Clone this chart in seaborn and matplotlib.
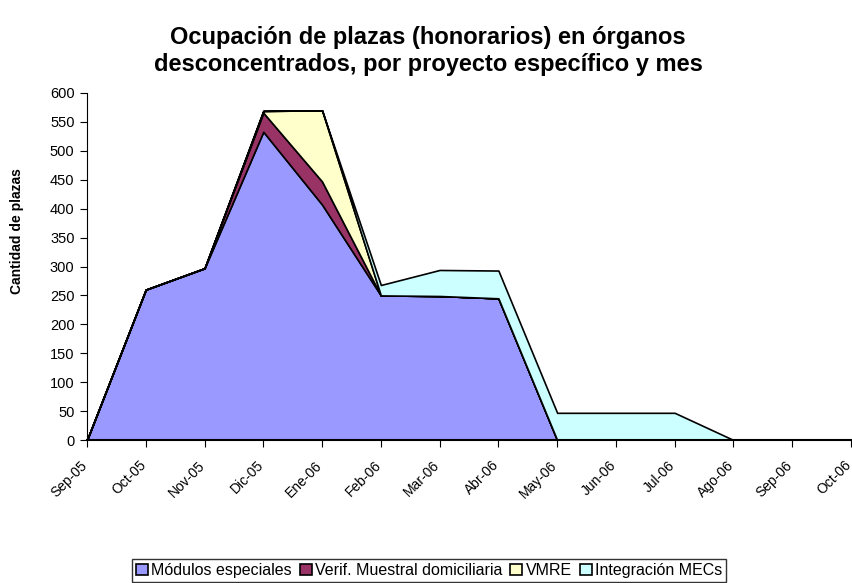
import matplotlib
matplotlib.use("Agg")
import matplotlib.pyplot as plt
import matplotlib.transforms as mtransforms
import seaborn as sns

# Datos
meses = ["Sep-05", "Oct-05", "Nov-05", "Dic-05", "Ene-06", "Feb-06", "Mar-06",
         "Abr-06", "May-06", "Jun-06", "Jul-06", "Ago-06", "Sep-06", "Oct-06"]
modulos = [0, 260, 297, 533, 407, 250, 249, 245, 0, 0, 0, 0, 0, 0]
verif = [0, 0, 0, 33, 40, 0, 0, 0, 0, 0, 0, 0, 0, 0]
vmre = [0, 0, 0, 3, 123, 0, 0, 0, 0, 0, 0, 0, 0, 0]
mecs = [0, 0, 0, 0, 0, 18, 45, 48, 47, 47, 47, 0, 0, 0]
series = ["Módulos especiales", "Verif. Muestral domiciliaria", "VMRE", "Integración MECs"]
colores = ["#9999FF", "#993366", "#FFFFCC", "#CCFFFF"]

sns.set_style("ticks")
plt.rcParams["font.family"] = ["Liberation Sans", "DejaVu Sans"]
plt.rcParams["text.color"] = "black"
plt.rcParams["axes.labelcolor"] = "black"
plt.rcParams["xtick.color"] = "black"
plt.rcParams["ytick.color"] = "black"

fig = plt.figure(figsize=(8.53, 5.83), dpi=100)
ax = fig.add_axes([87 / 853, 1 - 440 / 583, (851 - 87) / 853, (440 - 93) / 583])

x = list(range(len(meses)))
ax.stackplot(x, modulos, verif, vmre, mecs, labels=series, colors=colores,
             edgecolor="black", linewidth=1.2)

ax.set_xlim(0, len(meses) - 1)
ax.set_ylim(0, 600)
ax.set_yticks(range(0, 601, 50))
ax.set_xticks(x)
ax.set_xticklabels(meses, rotation=45, ha="right", va="top", rotation_mode="anchor")
ax.tick_params(axis="both", labelsize=10, direction="out", length=5, color="black")
ax.tick_params(axis="y", labelsize=10.5, pad=4)
ax.tick_params(axis="x", pad=8)
# correr un poco las etiquetas del eje x hacia la izquierda
desplazo = mtransforms.ScaledTranslation(-5 / 72, 0, fig.dpi_scale_trans)
for lab in ax.get_xticklabels():
    lab.set_transform(lab.get_transform() + desplazo)

sns.despine(ax=ax)
ax.spines["left"].set_color("black")
ax.spines["bottom"].set_color("black")
ax.spines["bottom"].set_linewidth(1.5)

ax.set_ylabel("Cantidad de plazas", fontsize=10, fontweight="bold")
ax.yaxis.set_label_coords((24 - 87) / 764, (440 - 231) / 347)
fig.suptitle("Ocupación de plazas (honorarios) en órganos\ndesconcentrados, por proyecto específico y mes",
             fontsize=17, fontweight="bold", y=0.955, x=0.502)

leg = fig.legend(*ax.get_legend_handles_labels(), loc="upper center",
                 bbox_to_anchor=(0.503, 1 - 559 / 583), ncol=4, fontsize=11.5,
                 frameon=True, fancybox=False, edgecolor="black",
                 handlelength=0.75, handleheight=0.75, handletextpad=0.2,
                 columnspacing=0.5, borderpad=0.25, borderaxespad=0)
leg.get_frame().set_linewidth(1.0)

fig.savefig("out.png", dpi=100)
